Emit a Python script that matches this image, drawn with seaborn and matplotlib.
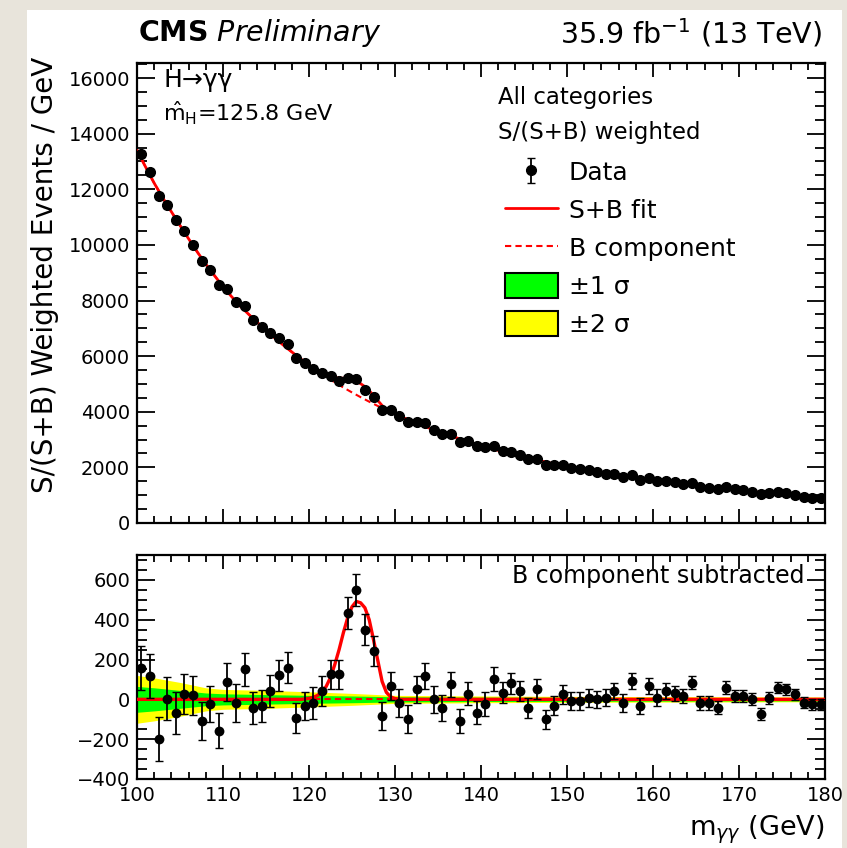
import numpy as np
import pandas as pd
import matplotlib
matplotlib.use("Agg")
import matplotlib.pyplot as plt
import seaborn as sns
from matplotlib.patches import Rectangle, Patch
from matplotlib.lines import Line2D
from matplotlib.ticker import MultipleLocator

# ---------------- data ----------------
bin_centers = np.arange(100.5, 180.0, 1.0)

data_values = [13258, 12627, 11755, 11443, 10878, 10485, 10005, 9422, 9080, 8542,
               8407, 7953, 7800, 7313, 7037, 6837, 6650, 6433, 5938, 5762,
               5553, 5397, 5277, 5088, 5215, 5160, 4794, 4527, 4052, 4057,
               3833, 3618, 3640, 3585, 3352, 3198, 3207, 2920, 2958, 2767,
               2717, 2754, 2603, 2568, 2452, 2292, 2312, 2092, 2092, 2085,
               1990, 1930, 1889, 1825, 1779, 1764, 1661, 1724, 1557, 1617,
               1518, 1513, 1464, 1413, 1443, 1307, 1273, 1214, 1282, 1209,
               1177, 1130, 1025, 1078, 1100, 1064, 1011, 943, 908, 883]

residuals = [158, 117, -200, 3, -67, 25, 20, -108, -25, -158,
             87, -17, 150, -42, -33, 42, 120, 158, -92, -33,
             -17, 42, 125, 125, 433, 550, 350, 242, -83, 67,
             -17, -100, 50, 117, 0, -42, 75, -108, 28, -67,
             -25, 100, 33, 80, 42, -42, 50, -100, -33, 25,
             -8, -8, 8, 0, 8, 42, -17, 92, -33, 67,
             8, 42, 30, 17, 83, -17, -17, -42, 58, 17,
             17, 0, -75, 8, 58, 50, 25, -17, -25, -25]

data_errors = [110, 110, 110, 108, 105, 100, 98, 95, 90, 88,
               95, 95, 85, 80, 80, 80, 80, 78, 75, 72,
               80, 75, 75, 75, 82, 82, 78, 75, 72, 72,
               70, 70, 68, 65, 68, 65, 62, 62, 58, 58,
               60, 60, 52, 52, 50, 50, 50, 48, 48, 46,
               45, 45, 44, 44, 42, 42, 45, 40, 40, 40,
               42, 38, 38, 36, 33, 34, 34, 32, 32, 32,
               30, 30, 30, 30, 28, 28, 28, 27, 27, 27]

bkg_mass = np.arange(100, 181, 1)
bkg_values = [13400, 12800, 12220, 11690, 11190, 10700, 10220, 9750, 9310, 8900,
              8500, 8140, 7800, 7500, 7210, 6930, 6660, 6400, 6150, 5910,
              5680, 5460, 5250, 5055, 4871, 4694, 4525, 4362, 4208, 4061,
              3918, 3783, 3652, 3528, 3409, 3295, 3185, 3079, 2978, 2881,
              2786, 2697, 2611, 2528, 2448, 2371, 2298, 2227, 2158, 2092,
              2029, 1968, 1909, 1853, 1797, 1745, 1700, 1655, 1610, 1570,
              1530, 1490, 1452, 1415, 1378, 1342, 1307, 1273, 1240, 1208,
              1176, 1145, 1115, 1085, 1056, 1028, 1000, 973, 946, 920,
              895]

sig_mass = np.arange(119.0, 131.5, 0.5)
sig_values = [0, 2, 5, 10, 20, 38, 65, 110, 175, 250, 335, 410, 465,
              492, 485, 460, 400, 300, 195, 90, 35, 12, 4, 0, 0]

band_mass = [100, 102, 105, 108, 110, 115, 120, 125, 130, 140, 150, 160, 170, 180]
band_1sigma = [65, 58, 45, 32, 28, 24, 20, 17, 13, 11, 10, 9, 8, 8]
band_2sigma = [120, 108, 85, 58, 50, 45, 38, 30, 20, 17, 15, 14, 13, 12]

# ---------------- style ----------------
sns.set_theme(style="ticks")
plt.rcParams["font.family"] = ["DejaVu Sans"]
plt.rcParams["mathtext.fontset"] = "dejavusans"
plt.rcParams["axes.linewidth"] = 1.6
plt.rcParams["axes.edgecolor"] = "black"
plt.rcParams["text.color"] = "black"
plt.rcParams["axes.labelcolor"] = "black"
plt.rcParams["xtick.color"] = "black"
plt.rcParams["ytick.color"] = "black"

W, H = 847, 848
fig = plt.figure(figsize=(W / 100, H / 100), dpi=100, facecolor="#e8e4db")
fig.patches.append(Rectangle((27 / W, 0), (842 - 27) / W, (H - 10) / H,
                             transform=fig.transFigure, facecolor="white",
                             edgecolor="none", zorder=0))

ax1 = fig.add_axes([137 / W, (H - 523) / H, 688 / W, 460 / H])
ax2 = fig.add_axes([137 / W, (H - 779) / H, 688 / W, 224 / H])

red = "#ff0000"

# ---------------- top panel ----------------
fit_m = np.union1d(bkg_mass, sig_mass)
fit_top = np.interp(fit_m, bkg_mass, bkg_values) + np.interp(fit_m, sig_mass, sig_values, left=0, right=0)

sns.lineplot(x=bkg_mass, y=bkg_values, ax=ax1, color=red, lw=1.5,
             linestyle=(0, (3, 2)), estimator=None, zorder=3)
sns.lineplot(x=fit_m, y=fit_top, ax=ax1, color=red, lw=2.0, estimator=None, zorder=3)
eb = ax1.errorbar(bin_centers, data_values, yerr=data_errors, fmt="o", color="black",
                  ms=7, capsize=3, elinewidth=1.3, zorder=4)
sns.scatterplot(x=bin_centers, y=data_values, ax=ax1, color="black", s=50,
                edgecolor="black", linewidth=0, zorder=5)

ax1.set_xlim(100, 180)
ax1.set_ylim(0, 16540)
ax1.yaxis.set_major_locator(MultipleLocator(2000))
ax1.yaxis.set_minor_locator(MultipleLocator(500))
ax1.xaxis.set_major_locator(MultipleLocator(10))
ax1.xaxis.set_minor_locator(MultipleLocator(2))
ax1.tick_params(axis="x", labelbottom=False)
ax1.set_xlabel("")
ax1.set_ylabel("")

ax1.text(0.038, 0.963, "H→γγ", transform=ax1.transAxes, fontsize=18,
         va="center", ha="left")
ax1.text(0.038, 0.89, r"$\hat{\mathrm{m}}_{\mathrm{H}}$=125.8 GeV", transform=ax1.transAxes,
         fontsize=16, va="center", ha="left")
ax1.text(0.525, 0.924, "All categories", transform=ax1.transAxes, fontsize=16.5,
         va="center", ha="left")
ax1.text(0.525, 0.848, "S/(S+B) weighted", transform=ax1.transAxes, fontsize=16.5,
         va="center", ha="left")

handles = [eb,
           Line2D([], [], color=red, lw=2.0),
           Line2D([], [], color=red, lw=1.5, linestyle=(0, (3, 2))),
           Patch(facecolor="#00ff00", edgecolor="black", lw=1.5),
           Patch(facecolor="#ffff00", edgecolor="black", lw=1.5)]
labels = ["Data", "S+B fit", "B component", "±1 σ", "±2 σ"]
ax1.legend(handles, labels, loc="upper left", bbox_to_anchor=(0.535, 0.79),
           frameon=False, fontsize=18, handlelength=2.1, handletextpad=0.45,
           labelspacing=0.48, handleheight=1.15, borderpad=0, borderaxespad=0)

# ---------------- bottom panel ----------------
ax2.fill_between(band_mass, -np.array(band_2sigma), band_2sigma, color="#ffff00", lw=0, zorder=1)
ax2.fill_between(band_mass, -np.array(band_1sigma), band_1sigma, color="#00ff00", lw=0, zorder=2)
fit_bottom = np.interp(fit_m, sig_mass, sig_values, left=0, right=0)
ax2.axhline(0, color=red, lw=1.5, linestyle=(0, (3, 2)), zorder=3)
sns.lineplot(x=fit_m, y=fit_bottom, ax=ax2, color=red, lw=2.4, estimator=None, zorder=3)
ax2.errorbar(bin_centers, residuals, yerr=data_errors, fmt="none", ecolor="black",
             capsize=3, elinewidth=1.3, zorder=4)
sns.scatterplot(x=bin_centers, y=residuals, ax=ax2, color="black", s=50,
                edgecolor="black", linewidth=0, zorder=5)

ax2.set_xlim(100, 180)
ax2.set_ylim(-400, 725)
ax2.yaxis.set_major_locator(MultipleLocator(200))
ax2.yaxis.set_minor_locator(MultipleLocator(50))
ax2.xaxis.set_major_locator(MultipleLocator(10))
ax2.xaxis.set_minor_locator(MultipleLocator(2))
ax2.set_xlabel("")
ax2.set_ylabel("")
ax2.text(0.97, 0.905, "B component subtracted", transform=ax2.transAxes, fontsize=17,
         va="center", ha="right")

for ax in (ax1, ax2):
    ax.set_facecolor("white")
    ax.set_zorder(2)
    ax.tick_params(which="both", direction="in", top=True, right=True,
                   color="black", labelcolor="black", width=1.3, labelsize=14, pad=5)
    ax.tick_params(axis="y", which="major", length=13)
    ax.tick_params(axis="y", which="minor", length=7)
    ax.tick_params(axis="x", which="major", length=10)
    ax.tick_params(axis="x", which="minor", length=5)
    for s in ax.spines.values():
        s.set_color("black")
        s.set_linewidth(1.6)

# ---------------- figure texts ----------------
fig.text(138 / W, 1 - 33 / H, r"$\mathbf{CMS}$ $\mathit{Preliminary}$", fontsize=20.5,
         ha="left", va="center")
fig.text(822 / W, 1 - 33 / H, r"35.9 fb$^{-1}$ (13 TeV)", fontsize=20.5,
         ha="right", va="center")
fig.text(45 / W, 1 - 57 / H, "S/(S+B) Weighted Events / GeV", rotation=90,
         fontsize=20, ha="center", va="top")
fig.text(825 / W, 1 - 830 / H, r"m$_{\gamma\gamma}$ (GeV)", fontsize=19.5,
         ha="right", va="center")

fig.savefig("out.png", dpi=100, facecolor=fig.get_facecolor())
